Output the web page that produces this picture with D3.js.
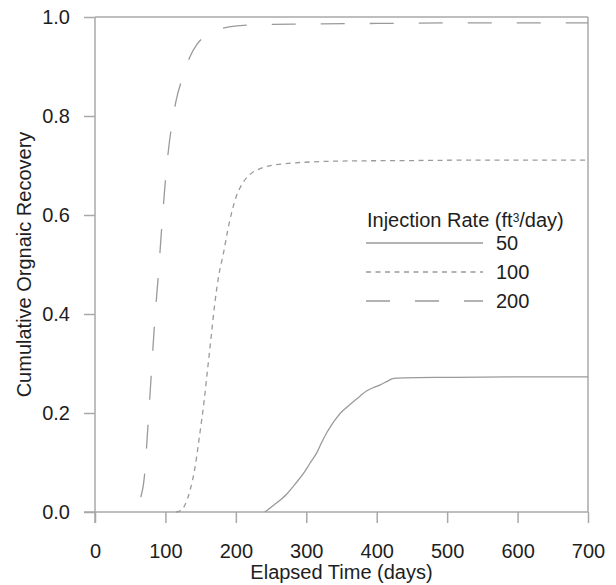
<!DOCTYPE html>
<html>
<head>
<meta charset="utf-8">
<script src="https://cdn.jsdelivr.net/npm/d3@7"></script>
<style>
  body { margin: 0; background: #fff; }
  text { font-family: "Liberation Sans", Arial, sans-serif; fill: #1e1e1e; }
</style>
</head>
<body>
<script>
const svgWidth = 616
const svgHeight = 585

const margin = { top: 17, right: 28, bottom: 73, left: 95 }
const chartWidth = svgWidth - margin.left - margin.right
const chartHeight = svgHeight - margin.top - margin.bottom

// data: [days, recovery]
const rate50 = [[241,0],[255,0.015],[272,0.036],[285,0.058],[296,0.078],[305,0.098],[315,0.12],[322,0.141],[329,0.16],[336,0.176],[343,0.19],[350,0.202],[358,0.212],[367,0.223],[377,0.235],[386,0.245],[395,0.251],[405,0.257],[415,0.264],[424,0.27],[440,0.271],[500,0.272],[600,0.273],[700,0.273]]
const rate100 = [[115,0],[122,0.003],[128,0.015],[135,0.044],[142,0.09],[149,0.16],[155,0.225],[160,0.29],[165,0.355],[170,0.42],[176,0.48],[182,0.52],[190,0.58],[200,0.635],[210,0.665],[220,0.682],[235,0.694],[265,0.703],[350,0.709],[450,0.71],[550,0.711],[700,0.711]]
const rate200 = [[65,0.03],[70,0.07],[75,0.17],[80,0.28],[85,0.39],[90,0.48],[95,0.58],[100,0.67],[105,0.74],[110,0.79],[115,0.83],[125,0.88],[135,0.92],[145,0.945],[155,0.96],[170,0.972],[190,0.98],[220,0.984],[300,0.986],[400,0.987],[500,0.988],[600,0.988],[700,0.988]]

const seriesNames = ["50", "100", "200"]
const dashes = [null, "5,4.5", "24,25"]
const xTicks = [0, 100, 200, 300, 400, 500, 600, 700]
const yTicks = [0, 0.2, 0.4, 0.6, 0.8, 1.0]

const grey = "#a8a8a8"
const lineGrey = "#9a9a9a"
const fontSize = "20px"

const svg = d3.select("body").append("svg")
  .attr("width", svgWidth)
  .attr("height", svgHeight)

const chartG = svg.append("g")
  .attr("transform", `translate(${margin.left}, ${margin.top})`)

const x = d3.scaleLinear().domain([0, 700]).range([0, chartWidth])
const y = d3.scaleLinear().domain([0, 1]).range([chartHeight, 0])

const tickLen = 11

// axes
const xAxis = chartG.append("g")
  .attr("transform", `translate(0, ${chartHeight})`)
  .call(d3.axisBottom(x).tickValues(xTicks).tickSize(tickLen).tickPadding(21).tickSizeOuter(0))
const yAxis = chartG.append("g")
  .call(d3.axisLeft(y).tickValues(yTicks).tickSize(tickLen).tickPadding(14).tickFormat(d3.format(".1f")).tickSizeOuter(0))

;[xAxis, yAxis].forEach(a => {
  a.select(".domain").remove()
  a.selectAll("line").attr("stroke", grey).attr("stroke-width", 1.5)
  a.selectAll("text").attr("font-size", fontSize).attr("fill", "#1e1e1e")
    .style("font-family", '"Liberation Sans", Arial, sans-serif')
})

// frame, axis lines cross a bit past the corner
chartG.append("line").attr("x1", -tickLen).attr("x2", chartWidth)
  .attr("y1", chartHeight).attr("y2", chartHeight)
  .attr("stroke", grey).attr("stroke-width", 1.5)
chartG.append("line").attr("x1", 0).attr("x2", 0)
  .attr("y1", 0).attr("y2", chartHeight + tickLen)
  .attr("stroke", grey).attr("stroke-width", 1.5)
chartG.append("line").attr("x1", 0).attr("x2", chartWidth)
  .attr("y1", 0).attr("y2", 0)
  .attr("stroke", grey).attr("stroke-width", 1.5)
chartG.append("line").attr("x1", chartWidth).attr("x2", chartWidth)
  .attr("y1", 0).attr("y2", chartHeight)
  .attr("stroke", grey).attr("stroke-width", 1.5)

// curves
const line = d3.line()
  .x(d => x(d[0]))
  .y(d => y(d[1]))
  .curve(d3.curveMonotoneX)

const allSeries = [rate50, rate100, rate200]
allSeries.forEach((s, i) => {
  chartG.append("path")
    .datum(s)
    .attr("d", line)
    .attr("fill", "none")
    .attr("stroke", lineGrey)
    .attr("stroke-width", 1.3)
    .attr("stroke-dasharray", dashes[i])
})

// axis titles
svg.append("text")
  .attr("x", margin.left + chartWidth / 2)
  .attr("y", 579)
  .attr("text-anchor", "middle")
  .attr("font-size", fontSize)
  .text("Elapsed Time (days)")

svg.append("text")
  .attr("transform", `translate(31, ${margin.top + chartHeight / 2}) rotate(-90)`)
  .attr("text-anchor", "middle")
  .attr("font-size", fontSize)
  .text("Cumulative Orgnaic Recovery")

// legend
const legend = svg.append("g").attr("transform", "translate(366, 227)")
const lt = legend.append("text").attr("x", 1).attr("y", 0).attr("font-size", fontSize)
lt.append("tspan").text("Injection Rate (ft")
lt.append("tspan").attr("font-size", "12px").attr("dy", -5).text("3")
lt.append("tspan").attr("dy", 5).text("/day)")

seriesNames.forEach((name, i) => {
  const ly = 16 + i * 29
  legend.append("line")
    .attr("x1", 0).attr("x2", 117)
    .attr("y1", ly).attr("y2", ly)
    .attr("stroke", lineGrey)
    .attr("stroke-width", 1.3)
    .attr("stroke-dasharray", dashes[i])
  legend.append("text")
    .attr("x", 130).attr("y", ly + 7)
    .attr("font-size", fontSize)
    .text(name)
})
</script>
</body>
</html>
